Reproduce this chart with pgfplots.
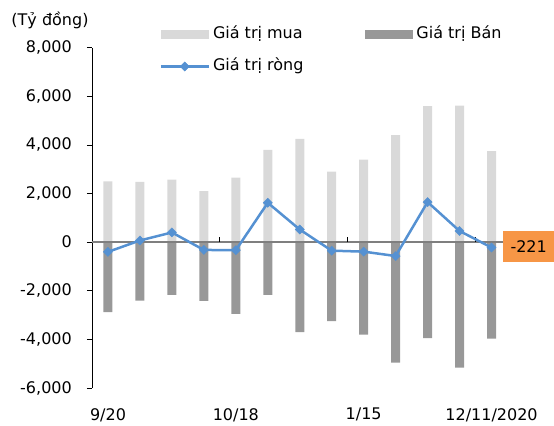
\documentclass[border=0pt]{standalone}
\usepackage{pgfplots}
\pgfplotsset{compat=1.18}
\usepackage{fontspec}
\setmainfont{DejaVu Sans}
\definecolor{buy}{HTML}{D9D9D9}
\definecolor{sell}{HTML}{989898}
\definecolor{net}{HTML}{5591D2}
\definecolor{zline}{HTML}{7F7F7F}
\definecolor{anno}{HTML}{F79646}
\newcommand{\ff}{\fontsize{16bp}{19bp}\selectfont}
\pgfplotsset{
  netlegend/.style={legend image code/.code={\draw[mark repeat=2,mark phase=2,##1] plot coordinates {(0bp,0bp) (24bp,0bp) (48bp,0bp)};}},
  buylegend/.style={legend image code/.code={\fill[buy] (0bp,-4.5bp) rectangle (48bp,4.5bp);}},
  selllegend/.style={legend image code/.code={\fill[sell] (0bp,-4.5bp) rectangle (48bp,4.5bp);}},
}
\begin{document}
\begin{tikzpicture}
\begin{axis}[
  scale only axis, width=415.5bp, height=340.3bp,
  xmin=-0.5, xmax=12.5, ymin=-6000, ymax=8000,
  axis y line=left, axis x line=bottom,
  x axis line style={draw=none},
  y axis line style={-, black, line width=0.8bp},
  xtick={0,4,8,12}, xticklabels={9/20,10/18,1/15,12/11/2020},
  xtick style={draw=none},
  ytick={-6000,-4000,...,8000},
  tick align=outside, major tick length=5bp,
  ytick style={black, line width=0.8bp},
  scaled y ticks=false,
  /pgf/number format/assume math mode=true,
  /pgf/number format/1000 sep={,},
  tick label style={font=\ff},
  yticklabel style={inner sep=0pt, xshift=-15bp},
  xticklabel style={inner sep=0pt, yshift=-15bp},
  clip=false,
  legend columns=2,
  legend cell align=left,
  legend style={at={(0.1625,1.0623)}, anchor=north west, draw=none, fill=none,
    inner sep=0pt, outer sep=0pt, row sep=16bp, font=\ff,
    nodes={inner sep=0pt, text height=12bp, text depth=4bp},
    /tikz/every odd column/.append style={column sep=3bp},
    /tikz/every even column/.append style={column sep=62bp}},
]
\addplot[ybar, bar width=9bp, bar shift=0pt, fill=buy, draw=none, buylegend]
  coordinates {(0,2500) (1,2480) (2,2570) (3,2100) (4,2650) (5,3800) (6,4250) (7,2900) (8,3400) (9,4400) (10,5600) (11,5620) (12,3750)};
\addlegendentry{Giá trị mua}
\addplot[ybar, bar width=9bp, bar shift=0pt, fill=sell, draw=none, selllegend]
  coordinates {(0,-2880) (1,-2400) (2,-2170) (3,-2415) (4,-2950) (5,-2170) (6,-3705) (7,-3244) (8,-3800) (9,-4957) (10,-3950) (11,-5160) (12,-3971)};
\addlegendentry{Giá trị Bán}
\draw[zline, line width=2bp] (axis cs:-0.5,0) -- (axis cs:12.5,0);
\draw[black, line width=0.8bp] (axis cs:3.5,0) -- ([yshift=5.5bp]axis cs:3.5,0);
\draw[black, line width=0.8bp] (axis cs:7.5,0) -- ([yshift=5.5bp]axis cs:7.5,0);
\draw[black, line width=0.8bp] (axis cs:11.5,0) -- ([yshift=5.5bp]axis cs:11.5,0);
\addplot[net, line width=2.5bp, mark=square*, mark size=3.2bp,
  mark options={rotate=45, fill=net, draw=net, line width=0.5bp}, netlegend]
  coordinates {(0,-400) (1,70) (2,400) (3,-320) (4,-330) (5,1620) (6,520) (7,-350) (8,-390) (9,-570) (10,1650) (11,460) (12,-221)};
\addlegendentry{Giá trị ròng}
\node[fill=anno, minimum width=51bp, minimum height=31bp, inner sep=0pt, anchor=west, font=\ff]
  at (axis cs:12.5,0) [xshift=-4.5bp, yshift=-4.5bp] {-221};
\end{axis}
\node[font=\ff] at ([xshift=-42bp,yshift=27.7bp]current axis.north west) {(Tỷ đồng)};
\pgfresetboundingbox
\path ([xshift=-92bp, yshift=-37bp]current axis.south west) rectangle ([xshift=46.5bp, yshift=47.7bp]current axis.north east);
\end{tikzpicture}
\end{document}
